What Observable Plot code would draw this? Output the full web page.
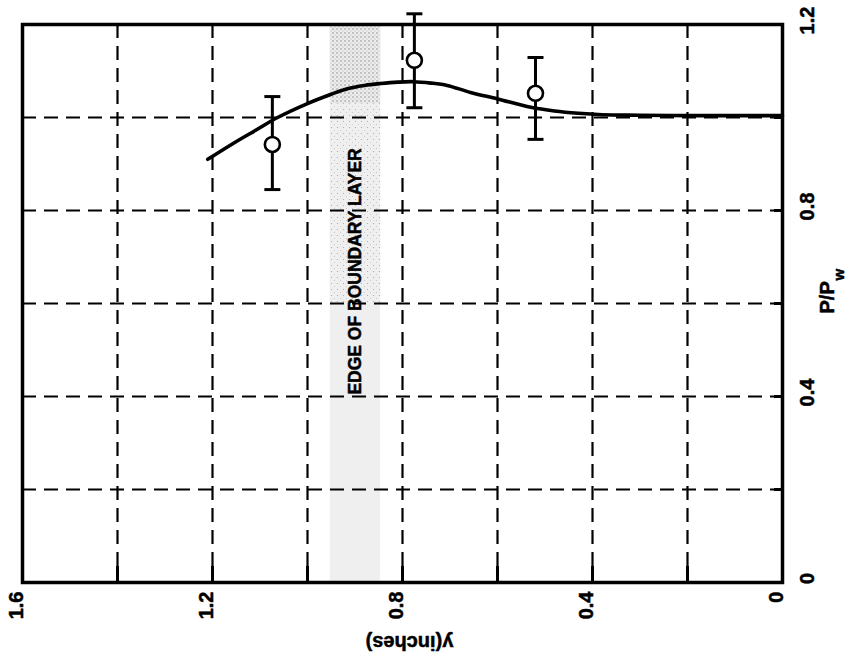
<!DOCTYPE html>
<html>
<head>
<meta charset="utf-8">
<script src="https://cdn.jsdelivr.net/npm/d3@7"></script>
<script src="https://cdn.jsdelivr.net/npm/@observablehq/plot@0.6"></script>
<style>
  html, body { margin: 0; padding: 0; background: white; }
</style>
</head>
<body>
<div id="chart"></div>
<script>
// ---- data ----
// fitted curve: distance from wall y (inches) vs P/Pw
const curveYin = [1.21, 1.16, 1.11, 1.063, 1.0, 0.95, 0.916, 0.88, 0.846, 0.81, 0.777, 0.74, 0.706, 0.657, 0.60, 0.53, 0.48, 0.43, 0.38, 0.3, 0.2, 0.1, 0];
const curveP   = [0.91, 0.942, 0.972, 1.0, 1.03, 1.05, 1.062, 1.069, 1.073, 1.076, 1.077, 1.074, 1.069, 1.054, 1.04, 1.022, 1.014, 1.009, 1.006, 1.005, 1.004, 1.004, 1.004];

// measured points with error bars
const ptYin = [1.074, 0.775, 0.52];
const ptP   = [0.942, 1.123, 1.052];
const ptLo  = [0.845, 1.021, 0.953];
const ptHi  = [1.045, 1.223, 1.129];

// edge of boundary layer band (y inches)
const bandEdge = [0.952, 0.846];
const bandStippleDense = [1.03, 1.2];
const bandStippleLight = [0.6, 1.03];
const bandLabel = "EDGE OF BOUNDARY LAYER";
const bandLabelPos = [0.9, 0.669];

// grid and tick labels
const xGrid = [1.4, 1.2, 1.0, 0.8, 0.6, 0.4, 0.2];
const yGrid = [0.2, 0.4, 0.6, 0.8, 1.0];
const xTickLabels = [1.6, 1.2, 0.8, 0.4, 0];
const yTickLabels = [0, 0.4, 0.8, 1.2];
const xTitle = "y(inches)";
const yTitleMain = "P/P";
const yTitleSub = "w";

// ---- tables ----
const curve = curveYin.map((y, i) => ({y, p: curveP[i]}));
const pts = ptYin.map((y, i) => ({y, p: ptP[i], lo: ptLo[i], hi: ptHi[i]}));
const caps = pts.flatMap(d => [{y: d.y, p: d.lo}, {y: d.y, p: d.hi}]);

const capSymbol = {
  draw(context, size) {
    const w = 8;
    context.moveTo(-w, 0);
    context.lineTo(w, 0);
  }
};

const W = 852, H = 661, mL = 22, mR = 70, mT = 24, mB = 79;
const frameW = W - mL - mR, frameH = H - mT - mB;
const STIP1 = "#d5d5d6";
const STIP2 = "#e1e1e2";

const txt = {fill: "black", fontWeight: "bold", stroke: "black", strokeWidth: 0.5};

const chart = Plot.plot({
  width: W,
  height: H,
  marginLeft: mL,
  marginRight: mR,
  marginTop: mT,
  marginBottom: mB,
  x: {domain: [1.6, 0], axis: null},
  y: {domain: [0, 1.2], axis: null},
  style: {
    fontFamily: "'Liberation Sans', Arial, Helvetica, sans-serif",
    fontWeight: "bold",
    background: "white",
    color: "black",
    overflow: "visible"
  },
  marks: [
    // boundary layer band
    Plot.rect([bandEdge], {x1: d => d[0], x2: d => d[1], y1: 0, y2: 1.2, fill: "#efefef"}),
    Plot.rect([bandEdge], {x1: d => d[0], x2: d => d[1], y1: bandStippleLight[0], y2: bandStippleLight[1], fill: STIP2}),
    Plot.rect([bandEdge], {x1: d => d[0], x2: d => d[1], y1: bandStippleDense[0], y2: bandStippleDense[1], fill: STIP1}),
    // dashed grid
    Plot.ruleX(xGrid, {x: d => d, stroke: "black", strokeWidth: 2.2, strokeDasharray: "14,8"}),
    Plot.ruleY(yGrid, {y: d => d, stroke: "black", strokeWidth: 2.2, strokeDasharray: "14,8"}),
    // inward ticks
    Plot.tickX(xGrid, {x: d => d, stroke: "black", strokeWidth: 3, insetTop: frameH - 16}),
    Plot.tickY(yGrid, {y: d => d, stroke: "black", strokeWidth: 3, insetLeft: frameW - 8}),
    // fitted curve
    Plot.line(curve, {x: "y", y: "p", curve: "catmull-rom", stroke: "black", strokeWidth: 3.6}),
    // error bars
    Plot.ruleX(pts, {x: "y", y1: "lo", y2: "hi", stroke: "black", strokeWidth: 3}),
    Plot.dot(caps, {x: "y", y: "p", symbol: capSymbol, fill: "none", stroke: "black", strokeWidth: 3, r: 8}),
    Plot.dot(pts, {x: "y", y: "p", r: 7.5, fill: "white", stroke: "black", strokeWidth: 2.6}),
    // band label
    Plot.text([bandLabel], {x: bandLabelPos[0], y: bandLabelPos[1], text: d => d, rotate: -90, fontSize: 17.5, ...txt}),
    // tick labels
    Plot.text(xTickLabels, {x: d => d, frameAnchor: "bottom", text: d => String(d), rotate: -90, textAnchor: "end", dy: 9, fontSize: 20, ...txt}),
    Plot.text(yTickLabels, {y: d => d, frameAnchor: "right", text: d => String(d), rotate: -90, textAnchor: "middle", dx: 25, dy: -4, fontSize: 20, ...txt}),
    // axis titles
    Plot.text([xTitle], {frameAnchor: "bottom", text: d => d, rotate: 180, dx: 7, dy: 53, fontSize: 20, ...txt}),
    Plot.text([yTitleMain], {frameAnchor: "right", text: d => d, rotate: -90, textAnchor: "start", dx: 45, dy: 10, fontSize: 20, ...txt}),
    Plot.text([yTitleSub], {frameAnchor: "right", text: d => d, rotate: -90, textAnchor: "start", dx: 57, dy: -23, fontSize: 15, ...txt}),
    // frame
    Plot.frame({stroke: "black", strokeWidth: 3.5})
  ]
});

// stipple texture for the boundary-layer band
const svg = d3.select(chart);
svg.insert("defs", ":first-child").html(
  '<pattern id="stip" width="4" height="4" patternUnits="userSpaceOnUse">' +
  '<rect width="4" height="4" fill="#ececec"/>' +
  '<circle cx="1" cy="1" r="0.8" fill="#8f8f8f"/>' +
  '<circle cx="3" cy="3" r="0.6" fill="#b0b0b0"/>' +
  '</pattern>' +
  '<pattern id="stip2" width="6" height="6" patternUnits="userSpaceOnUse">' +
  '<rect width="6" height="6" fill="#efefef"/>' +
  '<circle cx="1.5" cy="1.5" r="0.6" fill="#a5a5a5"/>' +
  '<circle cx="4.5" cy="4.5" r="0.5" fill="#c0c0c0"/>' +
  '</pattern>'
);
svg.selectAll("*").filter(function() { return this.getAttribute("fill") === STIP1; }).attr("fill", "url(#stip)");
svg.selectAll("*").filter(function() { return this.getAttribute("fill") === STIP2; }).attr("fill", "url(#stip2)");
svg.selectAll("text").style("font-weight", "bold");

document.getElementById("chart").appendChild(chart);
</script>
</body>
</html>
